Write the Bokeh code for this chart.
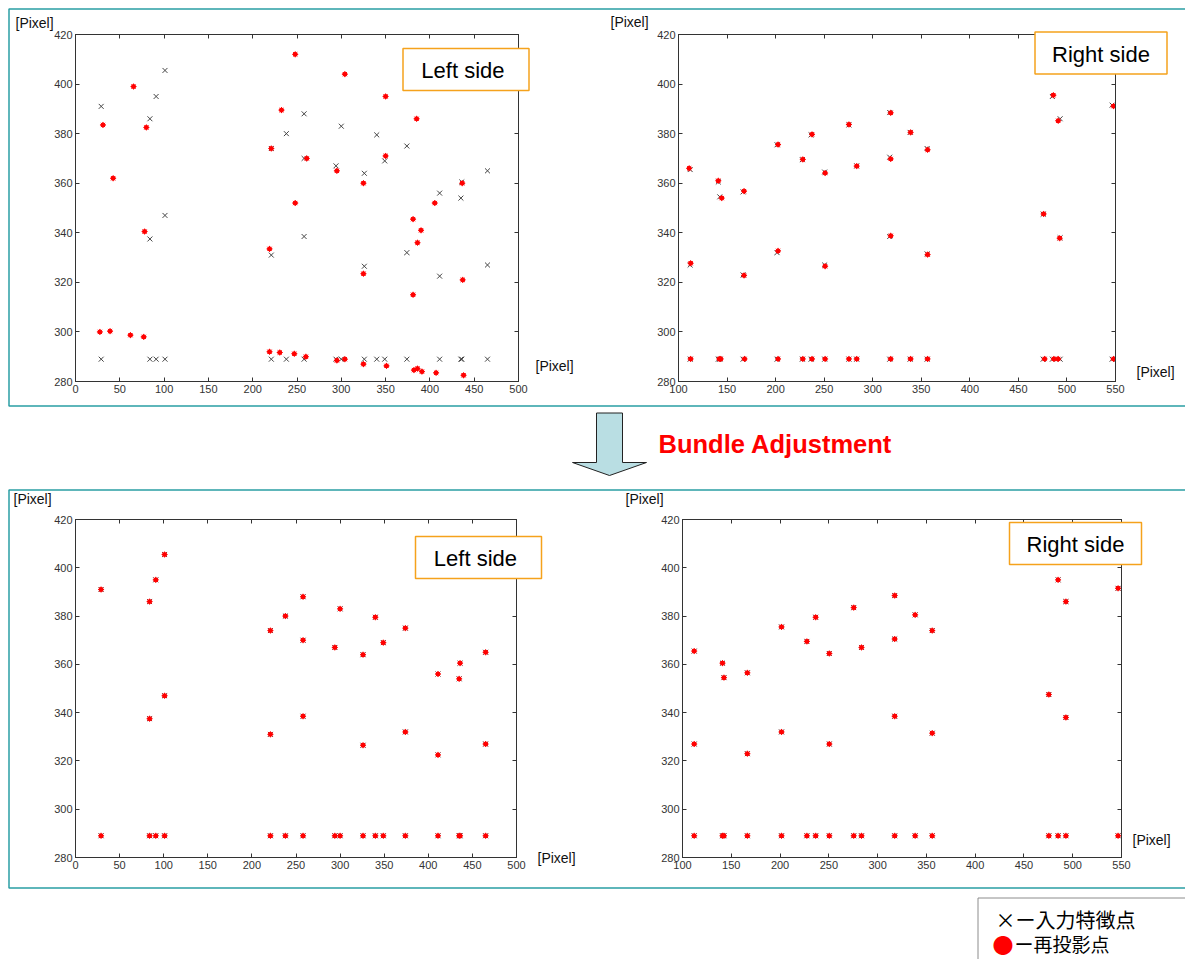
from bokeh.plotting import figure
from bokeh.layouts import column, row
from bokeh.models import (Range1d, FixedTicker, LinearAxis, Label, BoxAnnotation,
                          CustomJSTickFormatter, GridBox, Spacer)
from bokeh.embed import file_html
from bokeh.resources import INLINE

# ---------------- data (pixel coordinates) ----------------
# Left image: input feature points (x marks)
LEFT_FEAT_X = [29, 84, 91, 101, 101, 84, 221, 221, 238, 258, 258, 258, 294, 300, 326, 326,
               340, 349, 374, 374, 411, 411, 435, 436, 465, 465,
               29, 84, 91, 101, 221, 238, 258, 294, 300, 326, 340, 349, 374, 411, 435, 436, 465]
LEFT_FEAT_Y = [391, 386, 395, 405.5, 347, 337.5, 374, 331, 380, 388, 370, 338.5, 367, 383, 364, 326.5,
               379.5, 369, 375, 332, 356, 322.5, 354, 360.5, 365, 327,
               289, 289, 289, 289, 289, 289, 289, 289, 289, 289, 289, 289, 289, 289, 289, 289, 289]

# Left image: reprojected points before bundle adjustment
LEFT_REPROJ_X = [248, 65.5, 232.5, 31, 80, 221, 42.5, 248, 78, 219, 304, 350, 385, 261, 350, 295,
                 325, 436.5, 405.5, 381, 390, 386, 325, 437, 381,
                 27.5, 39, 62, 77, 219, 230.5, 247, 260, 295, 304, 325, 351, 382, 386, 391, 407, 438]
LEFT_REPROJ_Y = [412, 399, 389.5, 383.5, 382.5, 374, 362, 352, 340.5, 333.5, 404, 395, 386, 370, 371, 365,
                 360, 360, 352, 345.5, 341, 336, 323.5, 321, 315,
                 300, 300.3, 298.7, 298, 292, 291.7, 291.2, 290, 288.5, 289, 287, 286.3, 284.6, 285.2, 284,
                 283.5, 282.5]

# Right image: input feature points (x marks)
RIGHT_FEAT_X = [112, 112, 141, 142.5, 166.5, 166.5, 201.5, 201.5, 227.5, 236.5, 250.5, 250.5, 275.5,
                283.5, 317.5, 317.5, 317.5, 338.5, 356, 356, 485, 546.5, 493, 475.5, 493,
                112, 141, 142.5, 166.5, 201.5, 227.5, 236.5, 250.5, 275.5, 283.5, 317.5, 338.5, 356,
                475.5, 485, 493, 546.5]
RIGHT_FEAT_Y = [365.5, 327, 360.5, 354.5, 356.5, 323, 375.5, 332, 369.5, 379.5, 364.5, 327, 383.5,
                367, 388.5, 370.5, 338.5, 380.5, 374, 331.5, 395, 391.5, 386, 347.5, 338,
                289, 289, 289, 289, 289, 289, 289, 289, 289, 289, 289, 289, 289, 289, 289, 289, 289]

# Right image: reprojected points before bundle adjustment
RIGHT_REPROJ_X = [111, 112.5, 141, 144.5, 167.5, 167.5, 202.5, 202.5, 228, 237.5, 251, 251, 275.5,
                  283.5, 318.5, 318.5, 318.5, 339, 356.5, 356.5, 486, 548, 491, 476, 492.5,
                  112.5, 142, 143.5, 168, 202.5, 228, 237.5, 251, 275.5, 283.5, 318.5, 339, 356.5,
                  477, 486.5, 491, 548]
RIGHT_REPROJ_Y = [366, 327.7, 361, 354, 356.8, 322.8, 375.6, 332.7, 369.6, 379.7, 364.1, 326.5, 383.7,
                  366.9, 388.4, 369.8, 338.8, 380.5, 373.5, 331.2, 395.5, 391.1, 385.2, 347.6, 337.8,
                  289.1, 289.1, 289.1, 289.1, 289.1, 289.1, 289.1, 289.1, 289.1, 289.1, 289.1, 289.1,
                  289.1, 289.1, 289.1, 289.1, 289.1]

# After bundle adjustment the reprojections coincide with the features
LEFT_AFTER_X, LEFT_AFTER_Y = LEFT_FEAT_X, LEFT_FEAT_Y
RIGHT_AFTER_X, RIGHT_AFTER_Y = RIGHT_FEAT_X, RIGHT_FEAT_Y

LEFT_XTICKS = [0, 50, 100, 150, 200, 250, 300, 350, 400, 450, 500]
RIGHT_XTICKS = [100, 150, 200, 250, 300, 350, 400, 450, 500, 550]
YTICKS = [280, 300, 320, 340, 360, 380, 400, 420]

TITLE_TEXT = "Bundle Adjustment"
LEFT_LABEL = "Left  side"
RIGHT_LABEL = "Right side"
UNIT_LABEL = "[Pixel]"
LEGEND_FEAT = "×ー入力特徴点"
LEGEND_DOT = "●"
LEGEND_REPROJ = "ー再投影点"

# ---------------- styles ----------------
TEAL = "#2a9ea4"
ORANGE = "#f5a21c"
AXIS_COL = "#333333"
FONT = "Liberation Sans"
JP = "Noto Sans CJK JP"
PAGE_W, PAGE_H = 1185, 959


def style_axis(a, labels):
    a.axis_line_color = AXIS_COL
    a.major_tick_line_color = AXIS_COL
    a.major_tick_in = 4
    a.major_tick_out = 0
    a.minor_tick_line_color = None
    a.major_label_text_font = FONT
    a.major_label_text_font_size = "11px"
    a.major_label_text_color = "#333333"
    a.major_label_standoff = 3
    if not labels:
        a.formatter = CustomJSTickFormatter(code="return ''")
        a.major_label_text_font_size = "1px"


def make_panel(width, height, fl, ft, fw, fh, xr, xticks, fx, fy, rx, ry):
    p = figure(width=width, height=height, x_range=Range1d(*xr), y_range=Range1d(280, 420),
               output_backend="svg", toolbar_location=None, title=None,
               x_axis_type=None, y_axis_type=None,
               min_border_left=fl, min_border_top=ft,
               min_border_right=width - fl - fw, min_border_bottom=height - ft - fh)
    p.outline_line_color = AXIS_COL
    p.background_fill_color = None
    p.border_fill_color = None
    for loc in ("below", "above"):
        a = LinearAxis(ticker=FixedTicker(ticks=xticks))
        style_axis(a, loc == "below")
        p.add_layout(a, loc)
    for loc in ("left", "right"):
        a = LinearAxis(ticker=FixedTicker(ticks=YTICKS))
        style_axis(a, loc == "left")
        p.add_layout(a, loc)

    p.scatter(fx, fy, marker="x", size=7, line_color="#454545", line_width=1)
    p.scatter(rx, ry, marker="circle", size=4, fill_color="#ff0000", line_color="#ff0000")
    p.scatter(rx, ry, marker="asterisk", size=6, line_color="#ff0000", line_width=1)
    return p


# ---------------- plots (page pixel layout) ----------------
tl = make_panel(598, 406, 75, 34, 443, 348, (0, 500), LEFT_XTICKS,
                LEFT_FEAT_X, LEFT_FEAT_Y, LEFT_REPROJ_X, LEFT_REPROJ_Y)
tr = make_panel(587, 406, 80, 34, 437, 347, (100, 550), RIGHT_XTICKS,
                RIGHT_FEAT_X, RIGHT_FEAT_Y, RIGHT_REPROJ_X, RIGHT_REPROJ_Y)
bl = make_panel(598, 398, 75, 29, 441, 347, (0, 500), LEFT_XTICKS,
                LEFT_FEAT_X, LEFT_FEAT_Y, LEFT_AFTER_X, LEFT_AFTER_Y)
br = make_panel(587, 398, 84, 22, 439, 345, (100, 550), RIGHT_XTICKS,
                RIGHT_FEAT_X, RIGHT_FEAT_Y, RIGHT_AFTER_X, RIGHT_AFTER_Y)

plots = column(row(tl, tr), Spacer(width=PAGE_W, height=84), row(bl, br))

# ---------------- overlay with page decorations ----------------
ov = figure(width=PAGE_W, height=PAGE_H, x_range=Range1d(0, PAGE_W), y_range=Range1d(PAGE_H, 0),
            output_backend="svg", toolbar_location=None, title=None,
            x_axis_type=None, y_axis_type=None, min_border=0)
ov.outline_line_color = None
ov.background_fill_color = None
ov.border_fill_color = None

# panel frames (teal)
for top, bottom in ((8.5, 405.5), (489.5, 887.5)):
    ov.add_layout(BoxAnnotation(left=8.5, right=PAGE_W + 50, top=top, bottom=bottom,
                                fill_color=None, line_color=TEAL, line_alpha=1, line_width=1.5))

# "Left side" / "Right side" boxes
for (cx, cy, w, txt) in ((465.5, 69, 126, LEFT_LABEL), (1100.5, 52.5, 132, RIGHT_LABEL),
                         (478, 557, 126, LEFT_LABEL), (1075, 543, 132, RIGHT_LABEL)):
    ov.add_layout(BoxAnnotation(left=cx - w / 2, right=cx + w / 2, top=cy - 21, bottom=cy + 21,
                                fill_color="white", fill_alpha=1, line_color=ORANGE,
                                line_alpha=1, line_width=1.5))
    ov.add_layout(Label(x=cx, y=cy + 1, text=txt, text_font=FONT, text_font_size="22px",
                        text_color="#000000", text_align="center", text_baseline="middle"))

# [Pixel] unit labels
for (x, y) in ((15, 22), (610, 21), (13, 498), (625, 498.5),
               (535, 365), (1136, 371.5), (537, 857), (1132, 839)):
    ov.add_layout(Label(x=x, y=y, text=UNIT_LABEL, text_font=FONT, text_font_size="14px",
                        text_color="#111111", text_align="left", text_baseline="middle"))

# arrow between the panels
shaft_l, shaft_r, top_y, head_y, head_l, head_r, tip_x, tip_y = 596, 622, 412.5, 462, 572, 646, 609, 475
ov.patch([shaft_l, shaft_r, shaft_r, head_r, tip_x, head_l, shaft_l, shaft_l],
         [top_y, top_y, head_y, head_y, tip_y, head_y, head_y, top_y],
         fill_color="#b9dee3", line_color="#222222", line_width=1)
ov.add_layout(Label(x=658, y=443, text=TITLE_TEXT, text_font=FONT, text_font_size="25.5px",
                    text_font_style="bold", text_color="#ff0000", text_baseline="middle"))

# legend box
ov.add_layout(BoxAnnotation(left=977.5, right=PAGE_W + 50, top=897.5, bottom=PAGE_H + 50,
                            fill_color="white", fill_alpha=1, line_color="#8c8c8c",
                            line_alpha=1, line_width=1))
ov.add_layout(Label(x=995, y=919, text=LEGEND_FEAT, text_font=JP, text_font_size="20px",
                    text_color="#000000", text_baseline="middle"))
ov.add_layout(Label(x=992, y=943, text=LEGEND_DOT, text_font=JP, text_font_size="21px",
                    text_color="#ff0000", text_baseline="middle"))
ov.add_layout(Label(x=1014, y=943, text=LEGEND_REPROJ, text_font=JP, text_font_size="19px",
                    text_color="#000000", text_baseline="middle"))

layout = GridBox(children=[(plots, 0, 0), (ov, 0, 0)])

open("out.html", "w").write(file_html(layout, INLINE))
